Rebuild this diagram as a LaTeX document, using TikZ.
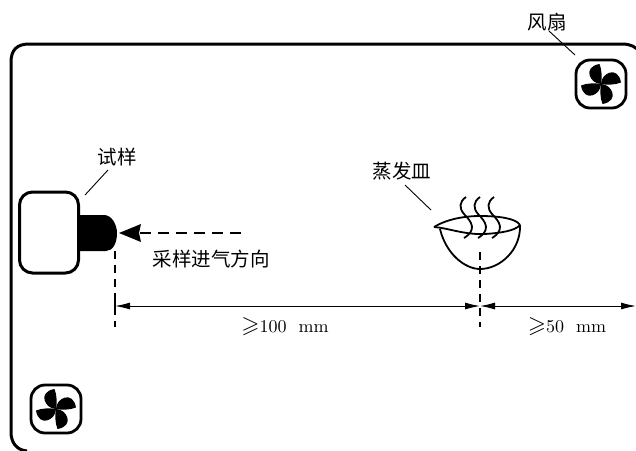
\documentclass[tikz,border=0pt]{standalone}
\usepackage{amssymb}
\usepackage{graphicx}
\usepackage{fontspec}
\newfontfamily\cjk{Noto Sans CJK SC}
\usetikzlibrary{arrows.meta}
\newcommand{\dimtext}[1]{\scalebox{1.8}{\scalebox{1.3}{$\geqslant$}#1}}
\tikzset{
  wall/.style={line width=3pt},
  lead/.style={line width=0.9pt},
  dimline/.style={line width=1pt},
  dashv/.style={line width=1.6pt,dash pattern=on 8pt off 6pt},
  dishline/.style={line width=1.8pt},
  lab/.style={inner sep=0pt,font=\fontsize{19.5pt}{20pt}\selectfont\cjk},
  dimlab/.style={inner sep=0pt},
  dimtip/.style={-{Latex[length=15pt,width=7pt]}},
  pics/fan/.style={code={
    \draw[line width=2.8pt,rounded corners=14pt] (-25,-24) rectangle (25,24);
    \foreach \r in {0,90,180,270}{
      \fill[rotate=\r] (0,0) .. controls (0,-11) and (17,-19) .. (20,-1.5) .. controls (14,1) and (6,1) .. (0,0) -- cycle;
    }
  }}
}
\begin{document}
\begin{tikzpicture}[x=1pt,y=-1pt]
\useasboundingbox (0,0) rectangle (636,450);
\begin{scope}
\clip (0,0) rectangle (636,450);
\draw[wall] (27,451) .. controls (16,450) and (11,442) .. (11,432) -- (11,62) .. controls (11,50) and (17,44) .. (29,44) -- (622,44) .. controls (631,44) and (636,47) .. (641,53);
\end{scope}
% sample
\node[draw,line width=3pt,rounded corners=13pt,minimum width=59pt,minimum height=81pt,inner sep=0pt] (sample) at (49,232.5) {};
\fill (80,215) -- (104,215) .. controls (112,215) and (117,225) .. (117,233) .. controls (117,243) and (113,251) .. (106,251) -- (80,251) -- cycle;
\coordinate (probe) at (115,251);
\coordinate (probeEnd) at (115,327);
\coordinate (dishC) at (480,252);
\coordinate (dishEnd) at (480,327);
\draw[dashv] (probe) -- (probeEnd);
\draw[dashv] (dishC) -- (dishEnd);
% inlet arrow
\coordinate (tipA) at (119,233);
\coordinate (tailA) at (241,233);
\draw[line width=2.2pt,dash pattern=on 11pt off 7pt] (tailA) -- (135,233);
\fill (tipA) -- (141,224) -- (139,233) -- (141,242) -- cycle;
% dimensions
\coordinate (d1) at (115,306);
\coordinate (d2) at (480,306);
\coordinate (d3) at (636,306);
\draw[dimline,dimtip] (300,306) -- (d1);
\draw[dimline,dimtip] (300,306) -- (d2);
\draw[dimline,dimtip] (560,306) -- (d2);
\draw[dimline,dimtip] (560,306) -- (d3);
\draw[line width=1.2pt] (115,299) -- (115,313);
% dish
\draw[dishline] (434,227) .. controls (447,219) and (465,216) .. (480,216) .. controls (497,216) and (516,218) .. (520,225);
\draw[dishline] (434,227) .. controls (448,228) and (465,235) .. (485,234) .. controls (500,233) and (515,231) .. (520,225);
\draw[dishline] (440,229) .. controls (446,254) and (465,269) .. (480,269) .. controls (500,269) and (521,250) .. (520,225);
\foreach \x in {0,14,28}{
  \draw[dishline] (466+\x,197) .. controls (459+\x,202) and (459+\x,208) .. (464+\x,214) .. controls (472+\x,222) and (477+\x,230) .. (464+\x,238);
}
% fans
\pic at (601,84) {fan};
\pic at (56,409) {fan};
% labels
\node[lab] (tsample) at (117,157) {试样};
\node[lab] (tdir) at (211,259) {采样进气方向};
\node[lab] (tdish) at (402,171) {蒸发皿};
\node[lab] (tfan) at (547,22) {风扇};
\node[dimlab] (t100) at (285,327) {\dimtext{100\ \ mm}};
\node[dimlab] (t50) at (567,327) {\dimtext{50\ \ mm}};
% leaders
\coordinate (l1) at (85,195);
\coordinate (l2) at (431,210);
\coordinate (l3) at (575,55);
\draw[lead] (108,170) -- (l1);
\draw[lead] (405,185) -- (l2);
\draw[lead] (549,31) -- (l3);
\end{tikzpicture}
\end{document}
